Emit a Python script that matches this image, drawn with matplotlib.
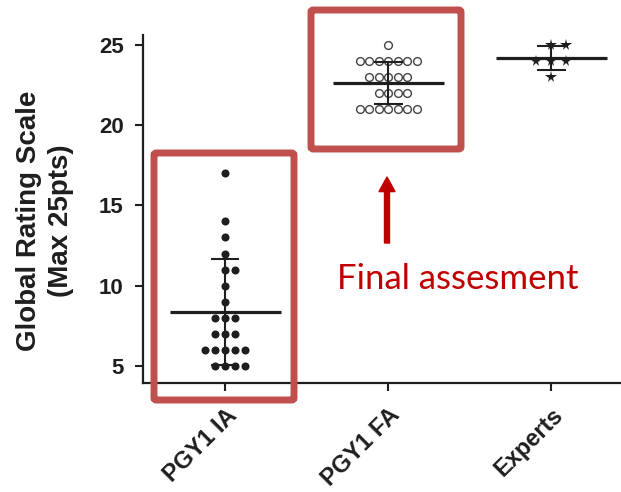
import matplotlib.pyplot as plt
import numpy as np
from matplotlib.patches import FancyArrowPatch, FancyBboxPatch

groups = ['PGY1 IA', 'PGY1 FA', 'Experts']
pgy1_ia = [17, 14, 13, 12, 11, 11, 10, 9, 8, 8, 8, 7, 7, 7,
           6, 6, 6, 6, 6, 5, 5, 5, 5]
pgy1_fa = [25, 24, 24, 24, 24, 24, 24, 24, 23, 23, 23, 23, 23,
           22, 22, 22, 22, 21, 21, 21, 21, 21, 21, 21]
experts = [25, 25, 24, 24, 24, 23]
y_ticks = [5, 10, 15, 20, 25]

W, H = 621, 492
INK = '#1e1e1e'
BOX_RED = '#c0504d'
TXT_RED = '#c00000'


# pixel position in the picture -> figure fraction
def fig_xy(x, y):
    return x / W, 1 - y / H


# GraphPad style column scatter: equal values side by side
def swarm_offsets(values, step):
    values = np.asarray(values)
    offsets = np.zeros(len(values))
    for v in np.unique(values):
        idx = np.where(values == v)[0]
        n = len(idx)
        offsets[idx] = (np.arange(n) - (n - 1) // 2) * step
    return offsets


def mean_sd(ax, i, values, half=0.34, cap=0.088):
    m = np.mean(values)
    sd = np.std(values, ddof=1)
    ax.hlines(m, i - half, i + half, color=INK, lw=2.3, zorder=4)
    ax.vlines(i, m - sd, m + sd, color=INK, lw=1.5, zorder=4)
    ax.hlines([m - sd, m + sd], i - cap, i + cap, color=INK, lw=1.5, zorder=4)


fig = plt.figure(figsize=(W / 100, H / 100), dpi=100)
x0, y0 = fig_xy(143, 383)
x1, y1 = fig_xy(620, 35)
ax = fig.add_axes([x0, y0, x1 - x0, y1 - y0])

# columns
ax.plot(0 + swarm_offsets(pgy1_ia, 0.061), pgy1_ia, 'o', ms=5.8,
        color=INK, mew=0, zorder=3)
ax.plot(1 + swarm_offsets(pgy1_fa, 0.058), pgy1_fa, 'o', ms=5.6,
        mfc='white', mec='#444444', mew=1.0, zorder=3)
ax.plot(2 + swarm_offsets(experts, 0.092), experts, '*', ms=8.5,
        color=INK, mew=0, zorder=3)

for i, vals in enumerate([pgy1_ia, pgy1_fa, experts]):
    mean_sd(ax, i, vals)

ax.set_xlim(-0.503, 2.42)
ax.set_ylim(3.94, 25.6)
ax.set_yticks(y_ticks)
ax.set_xticks(range(len(groups)))
ax.set_xticklabels(groups, rotation=45, ha='right', va='top',
                   rotation_mode='anchor')
for s in ['top', 'right']:
    ax.spines[s].set_visible(False)
for s in ['left', 'bottom']:
    ax.spines[s].set_linewidth(1.6)
    ax.spines[s].set_color(INK)
ax.tick_params(direction='out', length=6, width=1.5, color=INK,
               labelcolor=INK)
ax.tick_params(axis='y', pad=8, labelsize=16)
ax.tick_params(axis='x', pad=9, labelsize=17)
for lab in ax.get_xticklabels() + ax.get_yticklabels():
    lab.set_fontfamily('Liberation Sans')
    lab.set_fontweight('bold')

fig.text(*fig_xy(45, 221), 'Global Rating Scale\n(Max 25pts)',
         rotation=90, ha='center', va='center', multialignment='center',
         fontsize=20, fontweight='bold', family='Liberation Sans',
         color=INK, linespacing=1.25)

# red highlight boxes
for (bx0, by0, bx1, by1) in [(154, 153, 294, 400), (311, 10, 461, 149)]:
    fx0, fy1 = fig_xy(bx0, by0)
    fx1, fy0 = fig_xy(bx1, by1)
    fig.add_artist(FancyBboxPatch(
        (fx0, fy0), fx1 - fx0, fy1 - fy0, transform=fig.transFigure,
        boxstyle='round,pad=0,rounding_size=0.004', fill=False,
        edgecolor=BOX_RED, lw=5))

# arrow and note
fig.add_artist(FancyArrowPatch(
    fig_xy(387, 243), fig_xy(387, 177), transform=fig.transFigure,
    arrowstyle='simple,head_width=1.15,head_length=1.05,tail_width=0.36',
    mutation_scale=10, color=TXT_RED, shrinkA=0, shrinkB=0))
fig.text(*fig_xy(337, 289), 'Final assesment', ha='left', va='baseline',
         fontsize=25, family='Lato', color=TXT_RED)

fig.savefig('out.png', dpi=100)
